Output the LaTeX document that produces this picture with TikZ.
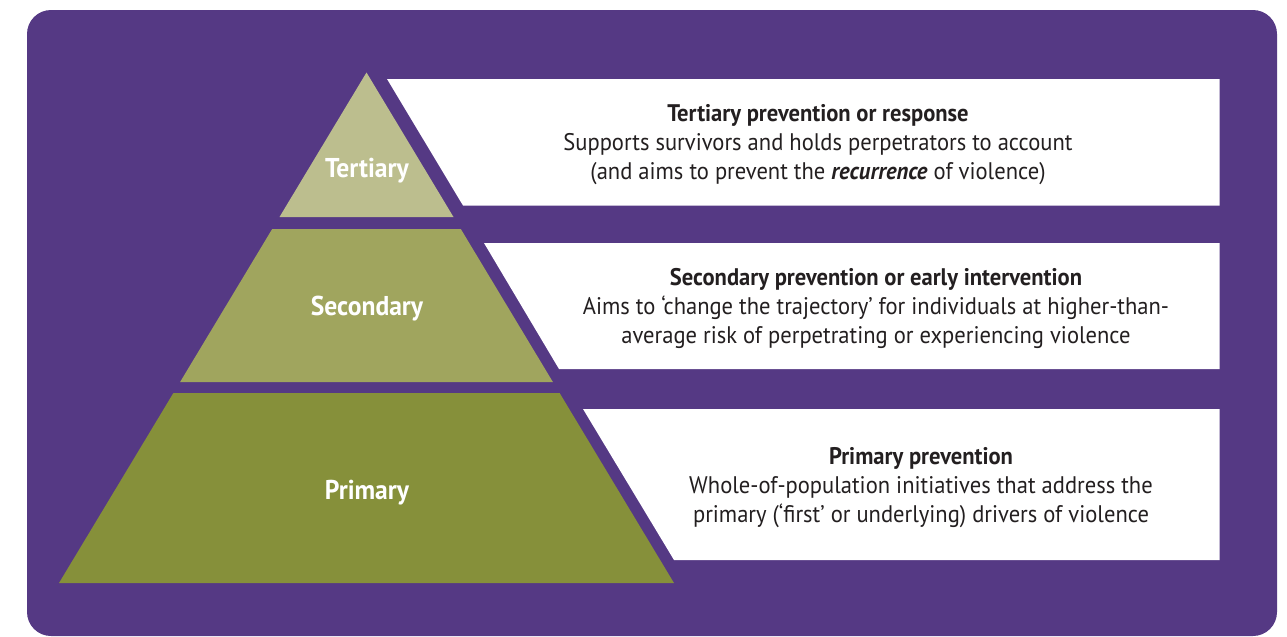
\documentclass[tikz,border=0pt]{standalone}
\usepackage{fontspec}
\setmainfont{PT Sans}[FakeStretch=0.94]
\definecolor{bgpurple}{RGB}{85,57,132}
\definecolor{tcol}{RGB}{188,190,142}
\definecolor{scol}{RGB}{160,165,94}
\definecolor{pcol}{RGB}{134,144,58}
\definecolor{txt}{RGB}{35,31,32}
\tikzset{
  desc/.style={align=center, text=txt, font=\fontsize{12}{14.5}\selectfont, inner sep=0pt},
  lvl/.style={text=white, font=\bfseries\fontsize{13.6}{15}\selectfont, inner sep=0pt},
  wbox/.style={fill=white}
}
\begin{document}
\begin{tikzpicture}[x=0.5pt,y=-0.5pt]
\useasboundingbox (0,0) rectangle (1287,637);
\fill[bgpurple, rounded corners=12pt] (27,10) rectangle (1277,636);
% pyramid layers
\fill[tcol] (366.5,72.5) -- (453.5,217) -- (279.5,217) -- cycle;
\fill[scol] (272.2,229) -- (460.8,229) -- (552.9,382) -- (180.1,382) -- cycle;
\fill[pcol] (173.4,393) -- (559.6,393) -- (674,583) -- (59,583) -- cycle;
% white boxes
\fill[wbox] (387,79) -- (1219.5,79) -- (1219.5,205.5) -- (463,205.5) -- cycle;
\fill[wbox] (484,243) -- (1219.5,243) -- (1219.5,369) -- (559,369) -- cycle;
\fill[wbox] (583,409) -- (1219.5,409) -- (1219.5,560) -- (674,560) -- cycle;
% labels
\node[lvl] (lt) at (367,171) {Tertiary};
\node[lvl] (ls) at (367,309) {Secondary};
\node[lvl] (lp) at (367,493) {Primary};
% descriptions
\node[desc] (dt) at (818,145) {\textbf{Tertiary prevention or response}\\Supports survivors and holds perpetrators to account\\(and aims to prevent the \textbf{\textit{recurrence}} of violence)};
\node[desc] (ds) at (876,308) {\textbf{Secondary prevention or early intervention}\\Aims to ‘change the trajectory’ for individuals at higher-than-\\average risk of perpetrating or experiencing violence};
\node[desc] (dp) at (921,488) {\textbf{Primary prevention}\\Whole-of-population initiatives that address the\\primary (‘first’ or underlying) drivers of violence};
\end{tikzpicture}
\end{document}
